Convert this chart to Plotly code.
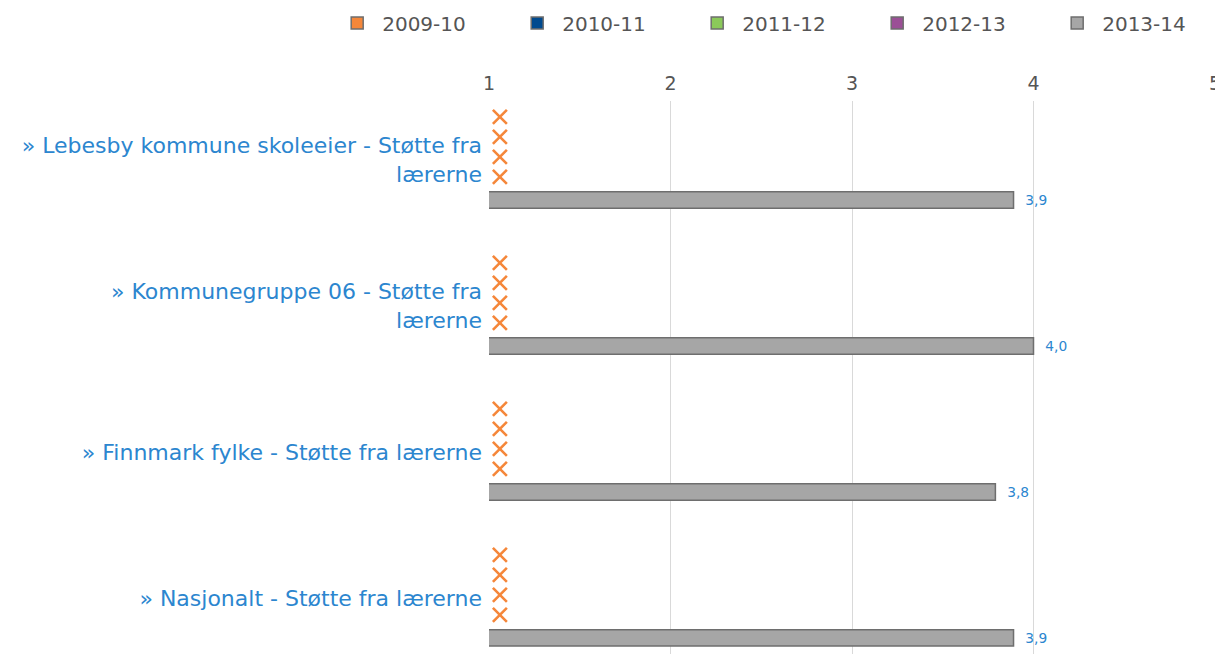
import plotly.graph_objects as go

categories = [
    "» Lebesby kommune skoleeier - Støtte fra<br>lærerne",
    "» Kommunegruppe 06 - Støtte fra<br>lærerne",
    "» Finnmark fylke - Støtte fra lærerne",
    "» Nasjonalt - Støtte fra lærerne",
]
series_names = ["2009-10", "2010-11", "2011-12", "2012-13", "2013-14"]
series_colors = ["#F5873A", "#004A8F", "#8BC95A", "#9B4F96", "#A6A6A6"]
values_2009_10 = [None, None, None, None]
values_2010_11 = [None, None, None, None]
values_2011_12 = [None, None, None, None]
values_2012_13 = [None, None, None, None]
values_2013_14 = [3.89, 4.00, 3.79, 3.89]
x_ticks = [1, 2, 3, 4, 5]

all_values = [values_2009_10, values_2010_11, values_2011_12, values_2012_13, values_2013_14]

# layout: slot offsets of each series within a category band (category units)
SLOT_OFFSETS = [-0.295, -0.158, -0.021, 0.116, 0.274]
BAR_WIDTH = 0.112
AXIS_MIN = x_ticks[0]
MISSING_PAD = 0.06  # "no data" cross drawn just right of the axis start

FONT = "DejaVu Sans"
BLUE = "#2C86CF"

fig = go.Figure()
for name, color, vals, off in zip(series_names, series_colors, all_values, SLOT_OFFSETS):
    ys = [k + off for k in range(len(categories))]
    fig.add_trace(go.Bar(
        orientation="h",
        x=vals, y=ys, width=BAR_WIDTH, name=name,
        marker=dict(color=color, line=dict(color="#6E6E6E", width=1.5)),
        texttemplate="\u00a0\u00a0%{x:.1f}", textposition="outside",
        textfont=dict(family=FONT, size=16, color=BLUE),
        cliponaxis=False, legendgroup=name, hoverinfo="skip",
    ))
    missing_y = [y for y, v in zip(ys, vals) if v is None]
    if missing_y:
        fig.add_trace(go.Scatter(
            x=[AXIS_MIN + MISSING_PAD] * len(missing_y), y=missing_y, mode="markers",
            marker=dict(symbol="x-thin", size=14,
                        line=dict(width=2.6, color=series_colors[0])),
            showlegend=False, legendgroup=name, hoverinfo="skip", cliponaxis=False,
        ))

# page body has an 8px margin; figure is sized to fill the rest of the window
fig.update_layout(
    width=1215, height=646,
    margin=dict(l=481, r=8, t=93, b=0, autoexpand=False),
    paper_bgcolor="white", plot_bgcolor="white",
    separators=",.",
    barmode="overlay",
    font=dict(family=FONT, color="#555555"),
    showlegend=True,
    legend=dict(
        orientation="h", x=-0.216, xanchor="left",
        y=1.141, yanchor="middle",
        font=dict(family=FONT, size=20, color="#555555"),
        itemwidth=40, entrywidth=125, entrywidthmode="pixels",
        tracegroupgap=0, traceorder="normal",
    ),
    xaxis=dict(
        side="top", range=[x_ticks[0], x_ticks[-1]], tickvals=x_ticks,
        showgrid=True, gridcolor="#D9D9D9", gridwidth=1,
        zeroline=False, showline=False, ticks="",
        tickfont=dict(family=FONT, size=19, color="#555555"),
        ticklabelstandoff=6,
    ),
    yaxis=dict(
        range=[3.384, -0.404],
        tickvals=list(range(len(categories))), ticktext=categories,
        showgrid=False, zeroline=False, showline=False, ticks="",
        tickfont=dict(family=FONT, size=22, color=BLUE),
        ticklabelstandoff=6,
    ),
)

fig.write_html("out.html")
